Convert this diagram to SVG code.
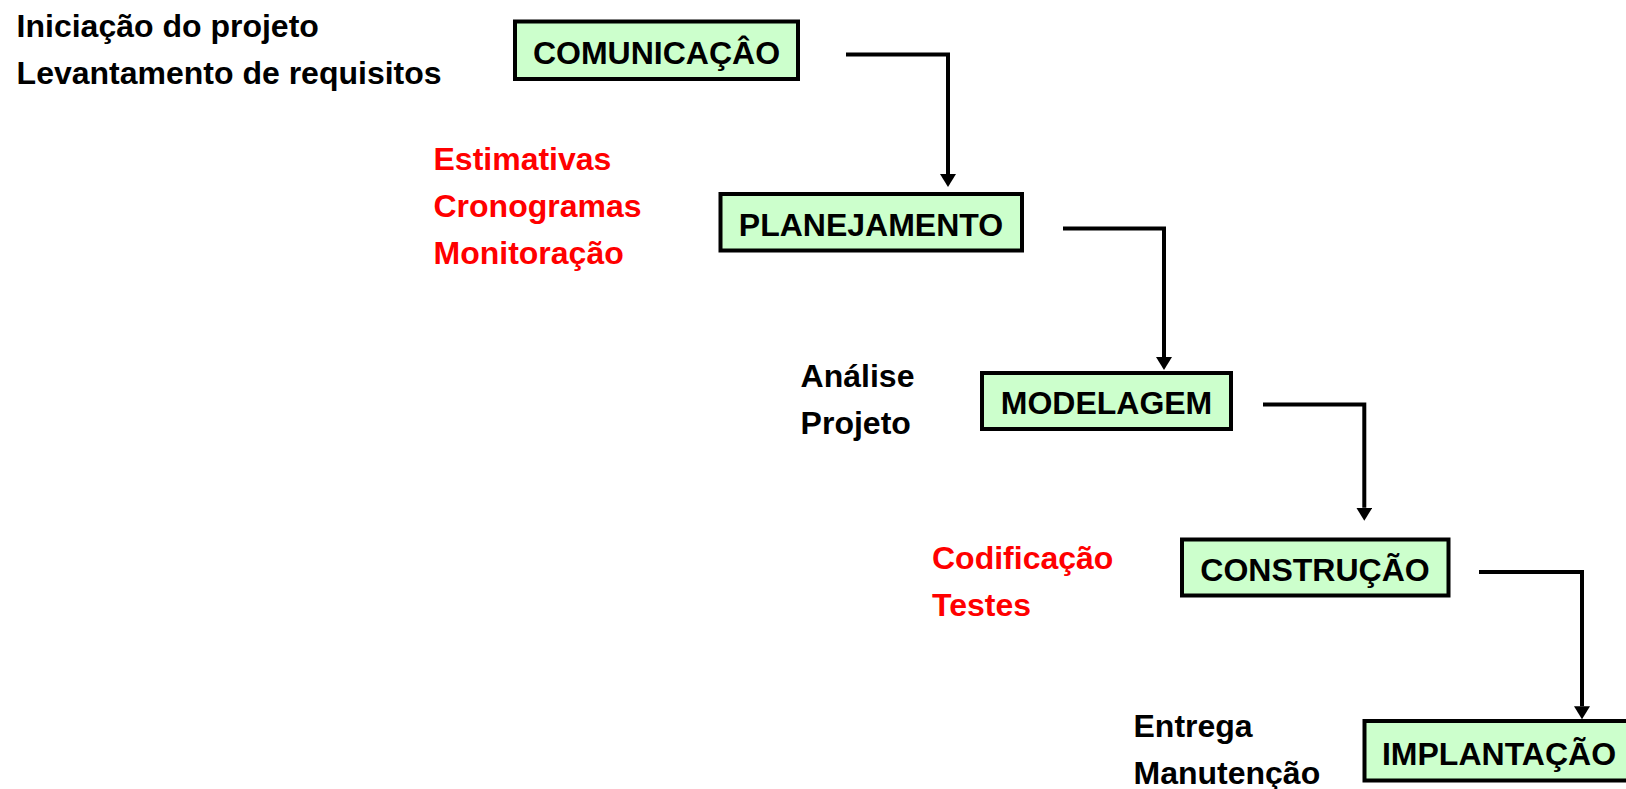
<svg xmlns="http://www.w3.org/2000/svg" width="1626" height="789" viewBox="0 0 1626 789">
  <style>
    .box { fill: #CCFFCC; stroke: #000000; stroke-width: 4; }
    .lbl { font-family: "Liberation Sans", Arial, sans-serif; font-weight: bold; font-size: 32px; fill: #000000; }
    .blk { font-family: "Liberation Sans", Arial, sans-serif; font-weight: bold; font-size: 32px; fill: #000000; }
    .red { font-family: "Liberation Sans", Arial, sans-serif; font-weight: bold; font-size: 32px; fill: #FF0000; }
    .conn { fill: none; stroke: #000000; stroke-width: 4; marker-end: url(#arrow); }
  </style>
  <defs>
    <marker id="arrow" viewBox="0 0 13 16" refX="0" refY="8" markerWidth="13" markerHeight="16" markerUnits="userSpaceOnUse" orient="auto">
      <path d="M0,0 L13,8 L0,16 z" fill="#000000"/>
    </marker>
  </defs>
  <rect width="1626" height="789" fill="#FFFFFF"/>

  <g id="notes">
    <text class="blk" x="16.6" y="37">Iniciação do projeto</text>
    <text class="blk" x="16.6" y="84">Levantamento de requisitos</text>
    <text class="red" x="433.5" y="170">Estimativas</text>
    <text class="red" x="433.5" y="217">Cronogramas</text>
    <text class="red" x="433.5" y="264">Monitoração</text>
    <text class="blk" x="800.6" y="387">Análise</text>
    <text class="blk" x="800.6" y="434">Projeto</text>
    <text class="red" x="932" y="569">Codificação</text>
    <text class="red" x="932" y="616">Testes</text>
    <text class="blk" x="1133.5" y="737">Entrega</text>
    <text class="blk" x="1133.5" y="784">Manutenção</text>
  </g>

  <g id="node-comunicacao">
    <rect class="box" x="515" y="21.5" width="283" height="57.5"/>
    <text class="lbl" x="656.5" y="63.5" text-anchor="middle">COMUNICAÇÂO</text>
  </g>
  <g id="node-planejamento">
    <rect class="box" x="720.5" y="194" width="301.5" height="56.5"/>
    <text class="lbl" x="871" y="235.5" text-anchor="middle">PLANEJAMENTO</text>
  </g>
  <g id="node-modelagem">
    <rect class="box" x="982" y="373" width="249" height="56"/>
    <text class="lbl" x="1106.5" y="414" text-anchor="middle">MODELAGEM</text>
  </g>
  <g id="node-construcao">
    <rect class="box" x="1182" y="539.5" width="266.5" height="56"/>
    <text class="lbl" x="1315" y="580.5" text-anchor="middle">CONSTRUÇÃO</text>
  </g>
  <g id="node-implantacao">
    <rect class="box" x="1364.5" y="721" width="269" height="59.5"/>
    <text class="lbl" x="1499" y="764.5" text-anchor="middle">IMPLANTAÇÃO</text>
  </g>

  <g id="connectors">
    <path class="conn" d="M846,54.5 H948 V174"/>
    <path class="conn" d="M1063,228.5 H1164 V357"/>
    <path class="conn" d="M1263,404.5 H1364.3 V507.7"/>
    <path class="conn" d="M1479,572 H1582 V706.3"/>
  </g>
</svg>
